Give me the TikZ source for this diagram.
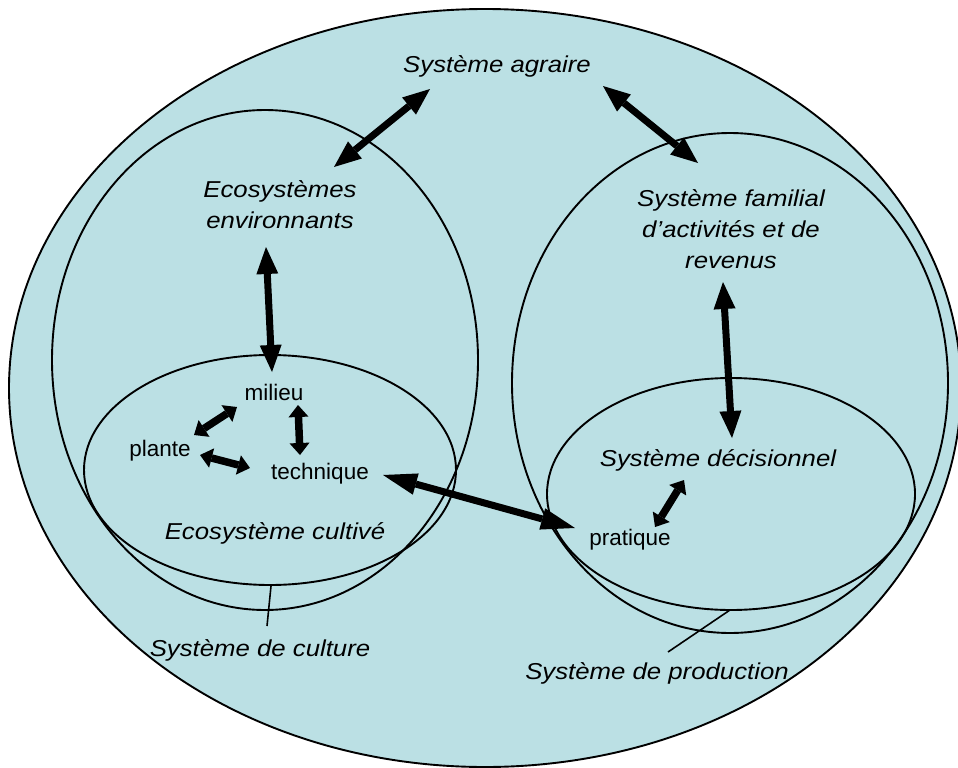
\documentclass[tikz,border=0pt]{standalone}
\usepackage{fontspec}
\setmainfont{Liberation Sans}
\newfontfamily\wideit{Liberation Sans}[FakeStretch=1.12]
\usetikzlibrary{arrows.meta}
\definecolor{fillc}{RGB}{187,224,228}
\tikzset{
  bigt/.style={font=\wideit\itshape\fontsize{23}{31}\selectfont, align=center, inner sep=0pt},
  smallt/.style={font=\fontsize{22.5}{27}\selectfont, inner sep=0pt},
  bigarr/.style={line width=7pt, {Triangle[length=27pt,width=22pt,line width=0pt]}-{Triangle[length=27pt,width=22pt,line width=0pt]}},
  longarr/.style={line width=7pt, {Triangle[length=34pt,width=22pt,line width=0pt]}-{Triangle[length=34pt,width=22pt,line width=0pt]}},
  smallarr/.style={line width=7.5pt, {Triangle[length=12pt,width=20pt,line width=0pt]}-{Triangle[length=12pt,width=20pt,line width=0pt]}},
  outline/.style={line width=1.9pt, line join=round},
}
\begin{document}
\begin{tikzpicture}[x=1pt,y=-1pt]
\useasboundingbox (0,0) rectangle (958,768);
% ellipses
\fill[fillc] (485,388) ellipse [x radius=476pt, y radius=379pt];
\draw[outline] (485,388) ellipse [x radius=476pt, y radius=379pt];
\draw[outline] (265,360) ellipse [x radius=213pt, y radius=250pt];
\draw[outline] (270,470) ellipse [x radius=186pt, y radius=115pt];
\draw[outline] (730,383) ellipse [x radius=218pt, y radius=250pt];
\draw[outline] (731,494) ellipse [x radius=184pt, y radius=116pt];
% texts
\node[bigt] (agraire) at (497,66) {Système agraire};
\node[bigt] (ecos) at (280,205) {Ecosystèmes\\environnants};
\node[bigt] (familial) at (731,229) {Système familial\\d’activités et de\\revenus};
\node[bigt] (decis) at (718,460) {Système décisionnel};
\node[smallt] (milieu) at (274,392) {milieu};
\node[smallt] (plante) at (160,451) {plante};
\node[smallt] (technique) at (320,474) {technique};
\node[bigt] (cultive) at (275,533) {Ecosystème cultivé};
\node[smallt] (pratique) at (630,540) {pratique};
\node[bigt] (culture) at (260,650) {Système de culture};
\node[bigt] (production) at (657,673) {Système de production};
% label lines
\coordinate (c1) at (271,586);
\coordinate (c2) at (267,626);
\draw[line width=1.6pt] (c1) -- (c2);
\coordinate (p1) at (730,610);
\coordinate (p2) at (668,652);
\draw[line width=1.6pt] (p1) -- (p2);
% arrows
\coordinate (a1s) at (430,89);  \coordinate (a1e) at (334,167);
\coordinate (a2s) at (603,86);  \coordinate (a2e) at (698,163);
\coordinate (a3s) at (266,247); \coordinate (a3e) at (272,372);
\coordinate (a4s) at (237,407); \coordinate (a4e) at (194,435);
\coordinate (a5s) at (298,405); \coordinate (a5e) at (300,455);
\coordinate (a6s) at (200,455); \coordinate (a6e) at (250,468);
\coordinate (a7s) at (383,475); \coordinate (a7e) at (575,528);
\coordinate (a8s) at (723,282); \coordinate (a8e) at (732,438);
\coordinate (a9s) at (684,480); \coordinate (a9e) at (655,527);
\draw[bigarr] (a1s) -- (a1e);
\draw[bigarr] (a2s) -- (a2e);
\draw[bigarr] (a3s) -- (a3e);
\draw[smallarr] (a4s) -- (a4e);
\draw[smallarr] (a5s) -- (a5e);
\draw[smallarr] (a6s) -- (a6e);
\draw[longarr] (a7s) -- (a7e);
\draw[bigarr] (a8s) -- (a8e);
\draw[smallarr] (a9s) -- (a9e);
\end{tikzpicture}
\end{document}
